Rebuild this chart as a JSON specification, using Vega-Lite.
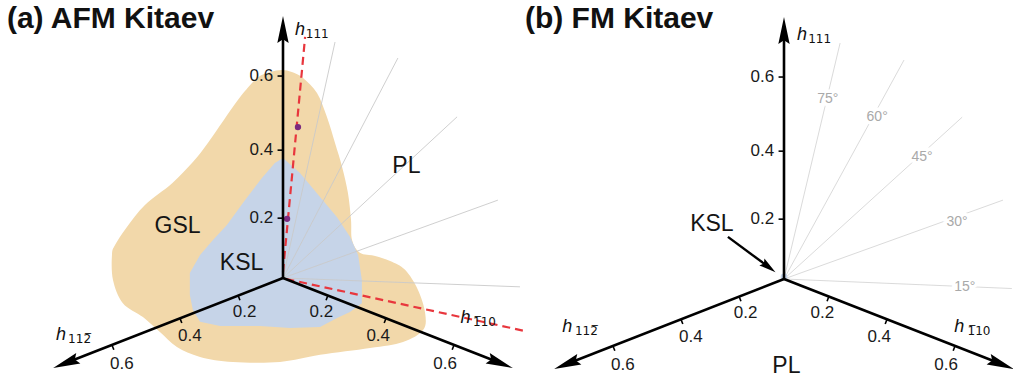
{
"$schema":"https://vega.github.io/schema/vega-lite/v6.json",
"autosize":{"type":"pad"},
"padding":0,
"spacing":0,
"bounds":"flush",
"background":"white",
"config":{"view":{"stroke":null},"font":"Liberation Sans"},
"resolve":{"scale":{"x":"independent","y":"independent"}},
"datasets":{
"axes":[
{"x":0,"y":0,"x2":0,"y2":0.735,"kind":"axis"},
{"x":0,"y":0,"x2":-0.639,"y2":-0.25,"kind":"axis"},
{"x":0,"y":0,"x2":0.639,"y2":-0.25,"kind":"axis"},
{"x":-0.016,"y":0.176,"x2":0,"y2":0.176,"kind":"tick"},
{"x":-0.016,"y":0.376,"x2":0,"y2":0.376,"kind":"tick"},
{"x":-0.016,"y":0.594,"x2":0,"y2":0.594,"kind":"tick"},
{"x":-0.132,"y":-0.0517,"x2":-0.1266,"y2":-0.0654,"kind":"tick"},
{"x":-0.303,"y":-0.1188,"x2":-0.2976,"y2":-0.1325,"kind":"tick"},
{"x":-0.503,"y":-0.1972,"x2":-0.4976,"y2":-0.2109,"kind":"tick"},
{"x":0.132,"y":-0.0517,"x2":0.1266,"y2":-0.0654,"kind":"tick"},
{"x":0.303,"y":-0.1188,"x2":0.2976,"y2":-0.1325,"kind":"tick"},
{"x":0.503,"y":-0.1972,"x2":0.4976,"y2":-0.2109,"kind":"tick"}
],
"arrows":[
{"x":0,"y":0.731,"angle":0},
{"x":-0.639,"y":-0.2505,"angle":248.6},
{"x":0.639,"y":-0.2505,"angle":111.4}
],
"ticklabels":[
{"x":-0.029,"y":0.176,"label":"0.2","side":"v"},
{"x":-0.029,"y":0.376,"label":"0.4","side":"v"},
{"x":-0.029,"y":0.594,"label":"0.6","side":"v"},
{"x":-0.113,"y":-0.1,"label":"0.2","side":"d"},
{"x":-0.274,"y":-0.17,"label":"0.4","side":"d"},
{"x":-0.474,"y":-0.253,"label":"0.6","side":"d"},
{"x":0.113,"y":-0.1,"label":"0.2","side":"d"},
{"x":0.28,"y":-0.17,"label":"0.4","side":"d"},
{"x":0.477,"y":-0.253,"label":"0.6","side":"d"}
],
"hlab":[
{"panel":"a","part":"h","x":0.035,"y":0.715,"label":"h"},
{"panel":"a","part":"sub","x":0.067,"y":0.707,"label":"111"},
{"panel":"a","part":"h","x":-0.668,"y":-0.182,"label":"h"},
{"panel":"a","part":"sub","x":-0.632,"y":-0.19,"label":"112\u0305"},
{"panel":"a","part":"h","x":0.522,"y":-0.132,"label":"h"},
{"panel":"a","part":"sub","x":0.559,"y":-0.14,"label":"1\u030510"},
{"panel":"b","part":"h","x":0.038,"y":0.703,"label":"h"},
{"panel":"b","part":"sub","x":0.071,"y":0.695,"label":"111"},
{"panel":"b","part":"h","x":-0.652,"y":-0.156,"label":"h"},
{"panel":"b","part":"sub","x":-0.615,"y":-0.164,"label":"112\u0305"},
{"panel":"b","part":"h","x":0.501,"y":-0.156,"label":"h"},
{"panel":"b","part":"sub","x":0.54,"y":-0.164,"label":"1\u030510"}
],
"rays":[
{"panel":"a","x":0,"y":0,"x2":0.153,"y2":0.694},
{"panel":"a","x":0,"y":0,"x2":0.338,"y2":0.647},
{"panel":"a","x":0,"y":0,"x2":0.512,"y2":0.474},
{"panel":"a","x":0,"y":0,"x2":0.632,"y2":0.229},
{"panel":"a","x":0,"y":0,"x2":0.697,"y2":-0.026},
{"panel":"b","x":0,"y":0,"x2":0.165,"y2":0.694},
{"panel":"b","x":0,"y":0,"x2":0.353,"y2":0.644},
{"panel":"b","x":0,"y":0,"x2":0.524,"y2":0.476},
{"panel":"b","x":0,"y":0,"x2":0.644,"y2":0.232},
{"panel":"b","x":0,"y":0,"x2":0.67,"y2":-0.028}
],
"blobs":[
{"region":"GSL","i":1,"x":-0.003,"y":0.612},
{"region":"GSL","i":2,"x":0.026,"y":0.606},
{"region":"GSL","i":3,"x":0.059,"y":0.588},
{"region":"GSL","i":4,"x":0.1,"y":0.544},
{"region":"GSL","i":5,"x":0.129,"y":0.474},
{"region":"GSL","i":6,"x":0.153,"y":0.397},
{"region":"GSL","i":7,"x":0.174,"y":0.326},
{"region":"GSL","i":8,"x":0.191,"y":0.25},
{"region":"GSL","i":9,"x":0.2,"y":0.171},
{"region":"GSL","i":10,"x":0.203,"y":0.112},
{"region":"GSL","i":11,"x":0.226,"y":0.074},
{"region":"GSL","i":12,"x":0.271,"y":0.065},
{"region":"GSL","i":13,"x":0.315,"y":0.05},
{"region":"GSL","i":14,"x":0.359,"y":0.024},
{"region":"GSL","i":15,"x":0.397,"y":-0.035},
{"region":"GSL","i":16,"x":0.418,"y":-0.103},
{"region":"GSL","i":17,"x":0.412,"y":-0.153},
{"region":"GSL","i":18,"x":0.353,"y":-0.188},
{"region":"GSL","i":19,"x":0.256,"y":-0.206},
{"region":"GSL","i":20,"x":0.109,"y":-0.226},
{"region":"GSL","i":21,"x":-0.009,"y":-0.247},
{"region":"GSL","i":22,"x":-0.147,"y":-0.247},
{"region":"GSL","i":23,"x":-0.244,"y":-0.232},
{"region":"GSL","i":24,"x":-0.312,"y":-0.203},
{"region":"GSL","i":25,"x":-0.362,"y":-0.159},
{"region":"GSL","i":26,"x":-0.412,"y":-0.115},
{"region":"GSL","i":27,"x":-0.471,"y":-0.074},
{"region":"GSL","i":28,"x":-0.5,"y":-0.006},
{"region":"GSL","i":29,"x":-0.503,"y":0.068},
{"region":"GSL","i":30,"x":-0.494,"y":0.097},
{"region":"GSL","i":31,"x":-0.459,"y":0.15},
{"region":"GSL","i":32,"x":-0.406,"y":0.215},
{"region":"GSL","i":33,"x":-0.326,"y":0.279},
{"region":"GSL","i":34,"x":-0.265,"y":0.341},
{"region":"GSL","i":35,"x":-0.221,"y":0.397},
{"region":"GSL","i":36,"x":-0.174,"y":0.465},
{"region":"GSL","i":37,"x":-0.126,"y":0.532},
{"region":"GSL","i":38,"x":-0.076,"y":0.588},
{"region":"GSL","i":39,"x":-0.038,"y":0.606},
{"region":"KSL","i":1,"x":0,"y":0.353},
{"region":"KSL","i":2,"x":0.05,"y":0.309},
{"region":"KSL","i":3,"x":0.109,"y":0.238},
{"region":"KSL","i":4,"x":0.159,"y":0.179},
{"region":"KSL","i":5,"x":0.197,"y":0.121},
{"region":"KSL","i":6,"x":0.221,"y":0.068},
{"region":"KSL","i":7,"x":0.232,"y":-0.006},
{"region":"KSL","i":8,"x":0.232,"y":-0.074},
{"region":"KSL","i":9,"x":0.197,"y":-0.1},
{"region":"KSL","i":10,"x":0.159,"y":-0.118},
{"region":"KSL","i":11,"x":0.109,"y":-0.144},
{"region":"KSL","i":12,"x":0.021,"y":-0.147},
{"region":"KSL","i":13,"x":-0.068,"y":-0.141},
{"region":"KSL","i":14,"x":-0.185,"y":-0.141},
{"region":"KSL","i":15,"x":-0.244,"y":-0.129},
{"region":"KSL","i":16,"x":-0.265,"y":-0.094},
{"region":"KSL","i":17,"x":-0.274,"y":-0.05},
{"region":"KSL","i":18,"x":-0.274,"y":0.015},
{"region":"KSL","i":19,"x":-0.244,"y":0.068},
{"region":"KSL","i":20,"x":-0.206,"y":0.112},
{"region":"KSL","i":21,"x":-0.165,"y":0.156},
{"region":"KSL","i":22,"x":-0.112,"y":0.229},
{"region":"KSL","i":23,"x":-0.062,"y":0.294},
{"region":"KSL","i":24,"x":-0.024,"y":0.338}
],
"reddash":[
{"x":0,"y":0.018,"x2":0.065,"y2":0.709},
{"x":0.01,"y":-0.003,"x2":0.712,"y2":-0.156}
],
"dots":[{"x":0.044,"y":0.444},{"x":0.012,"y":0.174}],
"phases":[
{"panel":"a","x":-0.31,"y":0.153,"label":"GSL"},
{"panel":"a","x":-0.122,"y":0.043,"label":"KSL"},
{"panel":"a","x":0.363,"y":0.328,"label":"PL"},
{"panel":"b","x":-0.212,"y":0.163,"label":"KSL"},
{"panel":"b","x":0.007,"y":-0.256,"label":"PL"}
],
"angles":[
{"x":0.129,"y":0.529,"label":"75°"},
{"x":0.274,"y":0.476,"label":"60°"},
{"x":0.406,"y":0.359,"label":"45°"},
{"x":0.509,"y":0.168,"label":"30°"},
{"x":0.532,"y":-0.024,"label":"15°"}
],
"titles":[
{"panel":"a","x":-0.812,"y":0.735,"label":"(a) AFM Kitaev"},
{"panel":"b","x":-0.762,"y":0.738,"label":"(b) FM Kitaev"}
],
"kslarrow":[{"x":-0.165,"y":0.124,"x2":-0.045,"y2":0.035,"angle":126.7}],
"origin":[{"x":0,"y":0.006}]
},
"hconcat":[
{
"width":506,"height":380,
"encoding":{
"x":{"field":"x","type":"quantitative","scale":{"domain":[-0.83235,0.65588],"nice":false,"zero":false},"axis":null},
"y":{"field":"y","type":"quantitative","scale":{"domain":[-0.3,0.81765],"nice":false,"zero":false},"axis":null}
},
"layer":[
{"data":{"name":"blobs"},"transform":[{"filter":"datum.region == 'GSL'"}],
 "mark":{"type":"line","filled":true,"interpolate":"cardinal-closed","color":"#F2D8AA","strokeWidth":0},
 "encoding":{"order":{"field":"i","type":"quantitative"}}},
{"data":{"name":"blobs"},"transform":[{"filter":"datum.region == 'KSL'"}],
 "mark":{"type":"line","filled":true,"interpolate":"linear-closed","color":"#C6D4E8","strokeWidth":0},
 "encoding":{"order":{"field":"i","type":"quantitative"}}},
{"data":{"name":"rays"},"transform":[{"filter":"datum.panel == 'a'"}],
 "mark":{"type":"rule","color":"#cacaca","strokeWidth":0.9},
 "encoding":{"x2":{"field":"x2"},"y2":{"field":"y2"}}},
{"data":{"name":"reddash"},
 "mark":{"type":"rule","color":"#E8363D","strokeWidth":2.2,"strokeDash":[8,5]},
 "encoding":{"x2":{"field":"x2"},"y2":{"field":"y2"}}},
{"data":{"name":"dots"},
 "mark":{"type":"point","filled":true,"color":"#7B2A7F","opacity":1,"size":40}},
{"data":{"name":"axes"},"transform":[{"filter":"datum.kind == 'axis'"}],
 "mark":{"type":"rule","color":"black","strokeWidth":2.6},
 "encoding":{"x2":{"field":"x2"},"y2":{"field":"y2"}}},
{"data":{"name":"axes"},"transform":[{"filter":"datum.kind == 'tick'"}],
 "mark":{"type":"rule","color":"black","strokeWidth":1.6},
 "encoding":{"x2":{"field":"x2"},"y2":{"field":"y2"}}},
{"data":{"name":"arrows"},
 "mark":{"type":"point","filled":true,"color":"black","opacity":1,"size":729,"shape":"M0,-1L0.42,1L0,0.72L-0.42,1Z"},
 "encoding":{"angle":{"field":"angle","type":"quantitative","scale":null}}},
{"data":{"name":"ticklabels"},"transform":[{"filter":"datum.side == 'v'"}],
 "mark":{"type":"text","align":"right","baseline":"middle","fontSize":17,"color":"#1a1a1a"},
 "encoding":{"text":{"field":"label"}}},
{"data":{"name":"ticklabels"},"transform":[{"filter":"datum.side == 'd'"}],
 "mark":{"type":"text","align":"center","baseline":"middle","fontSize":17,"color":"#1a1a1a"},
 "encoding":{"text":{"field":"label"}}},
{"data":{"name":"hlab"},"transform":[{"filter":"datum.panel == 'a' && datum.part == 'h'"}],
 "mark":{"type":"text","align":"left","baseline":"alphabetic","fontSize":18,"fontStyle":"italic","color":"#111"},
 "encoding":{"text":{"field":"label"}}},
{"data":{"name":"hlab"},"transform":[{"filter":"datum.panel == 'a' && datum.part == 'sub'"}],
 "mark":{"type":"text","align":"left","baseline":"alphabetic","fontSize":12,"font":"DejaVu Sans","color":"#111"},
 "encoding":{"text":{"field":"label"}}},
{"data":{"name":"phases"},"transform":[{"filter":"datum.panel == 'a'"}],
 "mark":{"type":"text","align":"center","baseline":"middle","fontSize":23,"color":"#151515"},
 "encoding":{"text":{"field":"label"}}},
{"data":{"name":"titles"},"transform":[{"filter":"datum.panel == 'a'"}],
 "mark":{"type":"text","align":"left","baseline":"alphabetic","fontSize":30,"fontWeight":"bold","color":"#111"},
 "encoding":{"text":{"field":"label"}}}
]
},
{
"width":507,"height":380,
"encoding":{
"x":{"field":"x","type":"quantitative","scale":{"domain":[-0.81765,0.67353],"nice":false,"zero":false},"axis":null},
"y":{"field":"y","type":"quantitative","scale":{"domain":[-0.29706,0.82059],"nice":false,"zero":false},"axis":null}
},
"layer":[
{"data":{"name":"rays"},"transform":[{"filter":"datum.panel == 'b'"}],
 "mark":{"type":"rule","color":"#d6d6d6","strokeWidth":0.9},
 "encoding":{"x2":{"field":"x2"},"y2":{"field":"y2"}}},
{"data":{"name":"angles"},
 "mark":{"type":"text","align":"center","baseline":"middle","fontSize":14,"fill":"white","stroke":"white","strokeWidth":7},
 "encoding":{"text":{"field":"label"}}},
{"data":{"name":"angles"},
 "mark":{"type":"text","align":"center","baseline":"middle","fontSize":14,"color":"#a9a9a9"},
 "encoding":{"text":{"field":"label"}}},
{"data":{"name":"origin"},
 "mark":{"type":"point","filled":true,"color":"#C6D4E8","opacity":1,"size":45}},
{"data":{"name":"axes"},"transform":[{"filter":"datum.kind == 'axis'"}],
 "mark":{"type":"rule","color":"black","strokeWidth":2.6},
 "encoding":{"x2":{"field":"x2"},"y2":{"field":"y2"}}},
{"data":{"name":"axes"},"transform":[{"filter":"datum.kind == 'tick'"}],
 "mark":{"type":"rule","color":"black","strokeWidth":1.6},
 "encoding":{"x2":{"field":"x2"},"y2":{"field":"y2"}}},
{"data":{"name":"arrows"},
 "mark":{"type":"point","filled":true,"color":"black","opacity":1,"size":729,"shape":"M0,-1L0.42,1L0,0.72L-0.42,1Z"},
 "encoding":{"angle":{"field":"angle","type":"quantitative","scale":null}}},
{"data":{"name":"kslarrow"},
 "mark":{"type":"rule","color":"black","strokeWidth":2.4},
 "encoding":{"x2":{"field":"x2"},"y2":{"field":"y2"}}},
{"data":{"name":"kslarrow"},
 "mark":{"type":"point","filled":true,"color":"black","opacity":1,"size":289,"shape":"M0,-1L0.5,1L0,0.7L-0.5,1Z"},
 "encoding":{"x":{"field":"x2","type":"quantitative"},"y":{"field":"y2","type":"quantitative"},"angle":{"field":"angle","type":"quantitative","scale":null}}},
{"data":{"name":"ticklabels"},"transform":[{"filter":"datum.side == 'v'"}],
 "mark":{"type":"text","align":"right","baseline":"middle","fontSize":17,"color":"#1a1a1a"},
 "encoding":{"text":{"field":"label"}}},
{"data":{"name":"ticklabels"},"transform":[{"filter":"datum.side == 'd'"}],
 "mark":{"type":"text","align":"center","baseline":"middle","fontSize":17,"color":"#1a1a1a"},
 "encoding":{"text":{"field":"label"}}},
{"data":{"name":"hlab"},"transform":[{"filter":"datum.panel == 'b' && datum.part == 'h'"}],
 "mark":{"type":"text","align":"left","baseline":"alphabetic","fontSize":18,"fontStyle":"italic","color":"#111"},
 "encoding":{"text":{"field":"label"}}},
{"data":{"name":"hlab"},"transform":[{"filter":"datum.panel == 'b' && datum.part == 'sub'"}],
 "mark":{"type":"text","align":"left","baseline":"alphabetic","fontSize":12,"font":"DejaVu Sans","color":"#111"},
 "encoding":{"text":{"field":"label"}}},
{"data":{"name":"phases"},"transform":[{"filter":"datum.panel == 'b'"}],
 "mark":{"type":"text","align":"center","baseline":"middle","fontSize":23,"color":"#151515"},
 "encoding":{"text":{"field":"label"}}},
{"data":{"name":"titles"},"transform":[{"filter":"datum.panel == 'b'"}],
 "mark":{"type":"text","align":"left","baseline":"alphabetic","fontSize":30,"fontWeight":"bold","color":"#111"},
 "encoding":{"text":{"field":"label"}}}
]
}
]
}
